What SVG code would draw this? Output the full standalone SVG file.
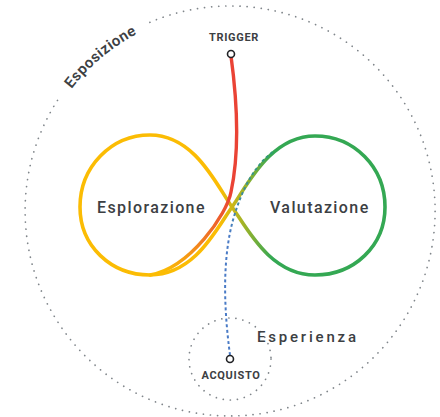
<svg xmlns="http://www.w3.org/2000/svg" width="440" height="417" viewBox="0 0 440 417">
  <style>
    .lbl { font-family: Roboto, "Liberation Sans", Arial, sans-serif; fill: #3c4043; }
    .big { font-size: 16px; font-weight: 500; letter-spacing: 1.4px; }
    .cap { font-size: 11px; font-weight: 700; letter-spacing: 0.7px; text-anchor: middle; }
    .dotted { fill: none; stroke: #80868b; stroke-width: 1.7; stroke-linecap: round; stroke-dasharray: 0.1 7; }
    .pin { fill: #ffffff; stroke: #202124; stroke-width: 1.6; }
  </style>
  <defs>
    <linearGradient id="loopGrad" gradientUnits="userSpaceOnUse" x1="220" y1="0" x2="272" y2="0">
      <stop offset="0" stop-color="#FBBC04"/>
      <stop offset="1" stop-color="#34A853"/>
    </linearGradient>
    <linearGradient id="trigGrad" gradientUnits="userSpaceOnUse" x1="230" y1="195" x2="165" y2="272">
      <stop offset="0" stop-color="#EA4335"/>
      <stop offset="0.5" stop-color="#F07A23"/>
      <stop offset="1" stop-color="#FBBC04"/>
    </linearGradient>
    <linearGradient id="buyGrad" gradientUnits="userSpaceOnUse" x1="0" y1="150" x2="0" y2="235">
      <stop offset="0" stop-color="#2E9E6E"/>
      <stop offset="1" stop-color="#4A7BC6"/>
    </linearGradient>
    <path id="arcEsp" d="M48.7,126.5 A200,200 0 0 1 178.2,17.8"/>
  </defs>

  <g id="esposizione">
    <path class="dotted" d="M149.9,22.3 A205,205 0 1 1 59.3,97.6"/>
    <text class="lbl" font-size="15" font-weight="600" letter-spacing="0.5"><textPath href="#arcEsp" startOffset="50%" text-anchor="middle">Esposizione</textPath></text>
  </g>

  <g id="esperienza">
    <circle class="dotted" cx="230" cy="359" r="41"/>
    <text class="lbl" x="257" y="342" font-size="15" font-weight="500" letter-spacing="2.8">Esperienza</text>
  </g>

  <g id="connectors">
    <path id="loop" d="M232,207 C217,186 195,135 150,135 C111,135 80,167 80,207 C80,246 111,275 150,275 C195,275 217,228 232,207 C247,186 270,136 315,136 C354,136 385,167 385,207 C385,246 354,275 315,275 C270,275 247,228 232,207 Z" fill="none" stroke="url(#loopGrad)" stroke-width="3.6"/>
    <path id="trigger-line" d="M231,56 C237,100 240,150 231,192 C227,214 190,268 150,275" fill="none" stroke="url(#trigGrad)" stroke-width="3.4" stroke-linecap="round"/>
    <path id="acquisto-line" d="M230,355 C224,310 222,260 233,220 C242,188 255,165 274,151" fill="none" stroke="url(#buyGrad)" stroke-width="2" stroke-dasharray="3 2.6"/>
  </g>

  <g id="esplorazione">
    <text class="lbl big" x="97" y="213">Esplorazione</text>
  </g>

  <g id="valutazione">
    <text class="lbl big" x="270" y="213">Valutazione</text>
  </g>

  <g id="trigger">
    <circle class="pin" cx="231" cy="54" r="3.5"/>
    <text class="lbl cap" x="234" y="41">TRIGGER</text>
  </g>

  <g id="acquisto">
    <circle class="pin" cx="230" cy="359" r="3.5"/>
    <text class="lbl cap" x="231" y="379">ACQUISTO</text>
  </g>
</svg>
